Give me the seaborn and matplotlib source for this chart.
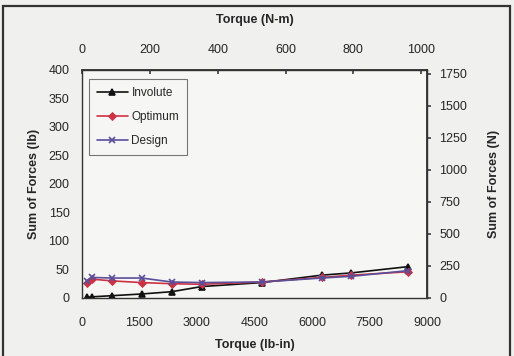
import matplotlib
matplotlib.use("Agg")
import matplotlib.pyplot as plt
import seaborn as sns
import pandas as pd
from matplotlib.patches import Rectangle

torque_lbin = [130, 260, 780, 1560, 2340, 3120, 4690, 6250, 7030, 8510]
involute = [1, 2, 4, 7, 11, 20, 27, 40, 44, 55]
optimum = [26, 33, 30, 27, 25, 24, 28, 36, 40, 46]
design = [30, 36, 35, 35, 28, 27, 28, 35, 38, 48]
series_names = ["Involute", "Optimum", "Design"]

sns.set_theme(style="white")
plt.rcParams['font.family'] = ['Liberation Sans', 'DejaVu Sans']

fig = plt.figure(figsize=(5.14, 3.56), dpi=100)
fig.patch.set_facecolor("#f0f0ee")
ax = fig.add_axes([0.1595, 0.163, 0.6712, 0.6404])
ax.set_facecolor("#f6f6f4")

styles = {
    "Involute": dict(color="#111111", marker="^", ms=5),
    "Optimum": dict(color="#cc3344", marker="D", ms=3.5),
    "Design": dict(color="#5a4f9a", marker="x", ms=5),
}
for name, vals in zip(series_names, [involute, optimum, design]):
    df = pd.DataFrame({"x": torque_lbin, "y": vals})
    st = styles[name]
    sns.lineplot(data=df, x="x", y="y", ax=ax, color=st["color"], marker=st["marker"],
                 markersize=st["ms"], markeredgecolor=st["color"], markeredgewidth=1.2,
                 linewidth=1.2, label=name)

ax.set_xlim(0, 9000)
ax.set_ylim(0, 400)
ax.set_xticks([0, 1500, 3000, 4500, 6000, 7500, 9000])
ax.set_yticks(range(0, 401, 50))
ax.tick_params(axis="both", labelsize=9, length=3, width=0.8, color="#444444", direction="out", pad=6)
ax.tick_params(axis="x", pad=11)
for s in ax.spines.values():
    s.set_color("#333333")
    s.set_linewidth(1.0)
ax.set_xlabel("Torque (lb-in)", fontsize=9, fontweight="bold", labelpad=7)
ax.set_ylabel("Sum of Forces (lb)", fontsize=9, fontweight="bold", labelpad=6)

k_nm = 0.112985
k_n = 4.44822
top = ax.secondary_xaxis("top", functions=(lambda x: x * k_nm, lambda x: x / k_nm))
top.set_xticks([0, 200, 400, 600, 800, 1000])
top.tick_params(labelsize=9, length=3, direction="in", pad=10, color="#444444")
top.set_xlabel("Torque (N-m)", fontsize=9, fontweight="bold", labelpad=15)

right = ax.secondary_yaxis("right", functions=(lambda y: y * k_n, lambda y: y / k_n))
right.set_yticks(range(0, 1751, 250))
right.tick_params(labelsize=9, length=3, direction="out", pad=6, color="#444444")
right.set_ylabel("Sum of Forces (N)", fontsize=9, fontweight="bold", labelpad=15)

leg = ax.legend(loc="upper left", bbox_to_anchor=(0.02, 0.96), fontsize=8.5, frameon=True,
                fancybox=False, edgecolor="#555555", handlelength=2.6, borderpad=0.7,
                labelspacing=1.0, handletextpad=0.3, borderaxespad=0)
leg.get_frame().set_linewidth(0.8)
leg.get_frame().set_facecolor("#f6f6f4")

fig.patches.append(Rectangle((0.006, -0.02), 0.986, 1.003, transform=fig.transFigure,
                             fill=False, edgecolor="#333333", linewidth=1.6))

fig.savefig("out.png", dpi=100)
